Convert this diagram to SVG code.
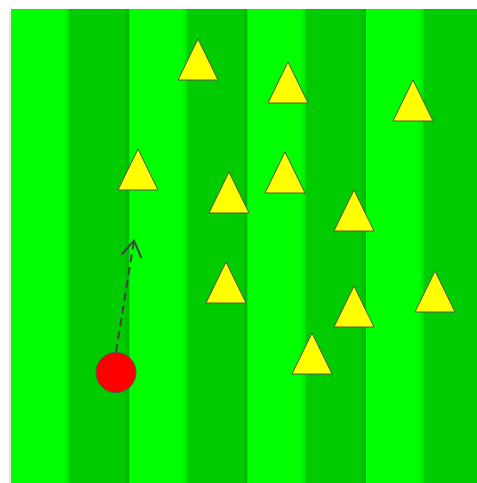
<svg xmlns="http://www.w3.org/2000/svg" width="477" height="483" viewBox="0 0 477 483">
  <defs>
    <linearGradient id="gLight" x1="0" y1="0" x2="1" y2="0">
      <stop offset="0" stop-color="#00ff00"/>
      <stop offset="0.9" stop-color="#00ff00"/>
      <stop offset="1" stop-color="#00e800"/>
    </linearGradient>
    <linearGradient id="gDark" x1="0" y1="0" x2="1" y2="0">
      <stop offset="0" stop-color="#00cc00"/>
      <stop offset="0.9" stop-color="#00cc00"/>
      <stop offset="1" stop-color="#00b400"/>
    </linearGradient>
    <filter id="shadow" x="-5%" y="-5%" width="110%" height="110%">
      <feDropShadow dx="0" dy="2" stdDeviation="2" flood-color="#000" flood-opacity="0.25"/>
    </filter>
    <marker id="openArrow" viewBox="0 0 20 22" refX="17" refY="11" markerWidth="20" markerHeight="22" markerUnits="userSpaceOnUse" orient="auto">
      <path d="M1,1 L17,11 L1,21" fill="none" stroke="#444" stroke-width="2"/>
    </marker>
  </defs>
  <style>
    .light { fill: url(#gLight); }
    .dark { fill: url(#gDark); }
    .cone { fill: #ffff00; stroke: #555; stroke-width: 1; }
    .ball { fill: #ff0000; stroke: #555; stroke-width: 1; }
    .path { fill: none; stroke: #444; stroke-width: 2; stroke-dasharray: 8 5; }
  </style>
  <g id="field" filter="url(#shadow)">
    <rect x="11" y="9" width="470" height="480" fill="#00ff00"/>
    <rect class="light" x="11" y="9" width="58" height="480"/>
    <rect class="dark" x="69" y="9" width="60.5" height="480"/>
    <rect class="light" x="129.5" y="9" width="57.5" height="480"/>
    <rect class="dark" x="187" y="9" width="60.5" height="480"/>
    <rect class="light" x="247.5" y="9" width="58" height="480"/>
    <rect class="dark" x="305.5" y="9" width="60.5" height="480"/>
    <rect class="light" x="366" y="9" width="57.5" height="480"/>
    <rect class="dark" x="423.5" y="9" width="60.5" height="480"/>
  </g>
  <g id="connectors">
    <line class="path" x1="116" y1="352" x2="134" y2="240.5" marker-end="url(#openArrow)"/>
  </g>
  <g id="cone1"><polygon class="cone" points="198,39 218,80 178,80"/></g>
  <g id="cone2"><polygon class="cone" points="288,62 308,103 268,103"/></g>
  <g id="cone3"><polygon class="cone" points="413,80 433,121 393,121"/></g>
  <g id="cone4"><polygon class="cone" points="138,149 158,190 118,190"/></g>
  <g id="cone5"><polygon class="cone" points="229,172 249,213 209,213"/></g>
  <g id="cone6"><polygon class="cone" points="285,152 305,193 265,193"/></g>
  <g id="cone7"><polygon class="cone" points="354,190 374,231 334,231"/></g>
  <g id="cone8"><polygon class="cone" points="226,262 246,303 206,303"/></g>
  <g id="cone9"><polygon class="cone" points="354,286 374,327 334,327"/></g>
  <g id="cone10"><polygon class="cone" points="435,271 455,312 415,312"/></g>
  <g id="cone11"><polygon class="cone" points="312,333 332,374 292,374"/></g>
  <g id="ball"><circle class="ball" cx="116" cy="372.5" r="20"/></g>
</svg>
